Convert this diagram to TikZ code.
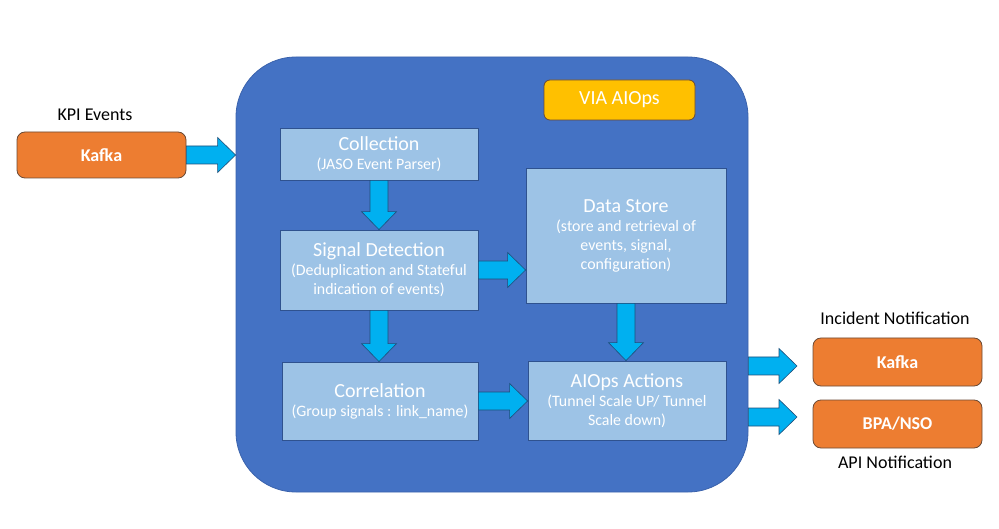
\documentclass[tikz,border=0pt]{standalone}
\usepackage{fontspec}
\setmainfont{Carlito}
\usepackage{tikz}
\usetikzlibrary{calc}

\definecolor{mainblue}{HTML}{4472C4}
\definecolor{mainline}{HTML}{3A62AC}
\definecolor{lightblue}{HTML}{9DC3E6}
\definecolor{boxline}{HTML}{2F528F}
\definecolor{kafkaorange}{HTML}{ED7D31}
\definecolor{orangeline}{HTML}{6B4A35}
\definecolor{viayellow}{HTML}{FFC000}
\definecolor{arrowcyan}{HTML}{00B0F0}
\definecolor{arrowline}{HTML}{1F4E79}

\newcommand{\ttl}[1]{{\fontsize{20}{22}\selectfont #1}}

\tikzset{
  box/.style={draw=boxline, fill=lightblue, text=white, align=center, inner sep=0pt,
    line width=0.8pt, font=\fontsize{15.9}{19}\selectfont},
  kafkabox/.style={draw=orangeline, fill=kafkaorange, text=white, rounded corners=8pt,
    minimum width=169pt, inner sep=0pt, line width=0.8pt, font=\fontsize{18}{20}\selectfont\bfseries},
  caption/.style={font=\fontsize{18}{20}\selectfont},
  fatR/.style={fill=arrowcyan, draw=arrowline, line width=0.6pt,
    to path={let \p1=(\tikztostart), \p2=(\tikztotarget) in
      (\x1,\y1+9pt) -- (\x2-18pt,\y1+9pt) -- (\x2-18pt,\y1+17.5pt) -- (\x2,\y1)
      -- (\x2-18pt,\y1-17.5pt) -- (\x2-18pt,\y1-9pt) -- (\x1,\y1-9pt) -- cycle}},
  fatD/.style={fill=arrowcyan, draw=arrowline, line width=0.6pt,
    to path={let \p1=(\tikztostart), \p2=(\tikztotarget) in
      (\x1-9pt,\y1) -- (\x1-9pt,\y2+18pt) -- (\x1-17.5pt,\y2+18pt) -- (\x1,\y2)
      -- (\x1+17.5pt,\y2+18pt) -- (\x1+9pt,\y2+18pt) -- (\x1+9pt,\y1) -- cycle}}
}

\begin{document}
\begin{tikzpicture}[x=1pt, y=-1pt]
  \useasboundingbox (0,0) rectangle (999,529);
  \node[draw=mainline, fill=mainblue, rounded corners=60pt, line width=0.8pt,
    minimum width=512pt, minimum height=435pt] (main) at (492,274.5) {};

  \node[caption] (kpi) at (95,115) {KPI Events};
  \node[kafkabox, minimum height=46pt] (kafkaIn) at (101.5,155) {Kafka};

  \node[draw=orangeline, fill=viayellow, text=white, rounded corners=6pt, line width=0.8pt,
    minimum width=151pt, minimum height=40pt, inner sep=0pt,
    font=\fontsize{20}{22}\selectfont] (via) at (619.5,100) {VIA AIOps};

  \node[box, minimum width=198pt, minimum height=52pt] (collect) at (379,154)
    {\ttl{Collection}\\(JASO Event Parser)};
  \node[box, minimum width=198pt, minimum height=80pt] (signal) at (379,270)
    {\ttl{Signal Detection}\\(Deduplication and Stateful\\indication of events)};
  \node[box, minimum width=200pt, minimum height=135pt] (store) at (626,235.5)
    {\ttl{Data Store}\\(store and retrieval of\\events, signal,\\configuration)};
  \node[box, minimum width=196pt, minimum height=78pt] (correl) at (380,401)
    {\ttl{Correlation}\\(Group signals : link\_name)};
  \node[box, minimum width=198pt, minimum height=79pt] (actions) at (627,400.5)
    {\ttl{AIOps Actions}\\(Tunnel Scale UP/ Tunnel\\Scale down)};

  \node[caption] (incident) at (895,318) {Incident Notification};
  \node[kafkabox, minimum height=48pt] (kafkaOut) at (897.5,362) {Kafka};
  \node[kafkabox, minimum height=48pt] (bpa) at (897.5,424) {BPA/NSO};
  \node[caption] (api) at (895,462) {API Notification};

  \coordinate (outA) at (797,366);
  \coordinate (outB) at (797,417);

  \draw[fatR] (kafkaIn.east) to (main.west);
  \draw[fatD] (collect.south) to (signal.north);
  \draw[fatR] (signal.east) to (store.west);
  \draw[fatD] (signal.south) to (correl.north);
  \draw[fatD] (store.south) to (actions.north);
  \draw[fatR] (correl.east) to (actions.west);
  \draw[fatR] (main.east |- outA) to (outA);
  \draw[fatR] (main.east |- outB) to (outB);
\end{tikzpicture}
\end{document}
